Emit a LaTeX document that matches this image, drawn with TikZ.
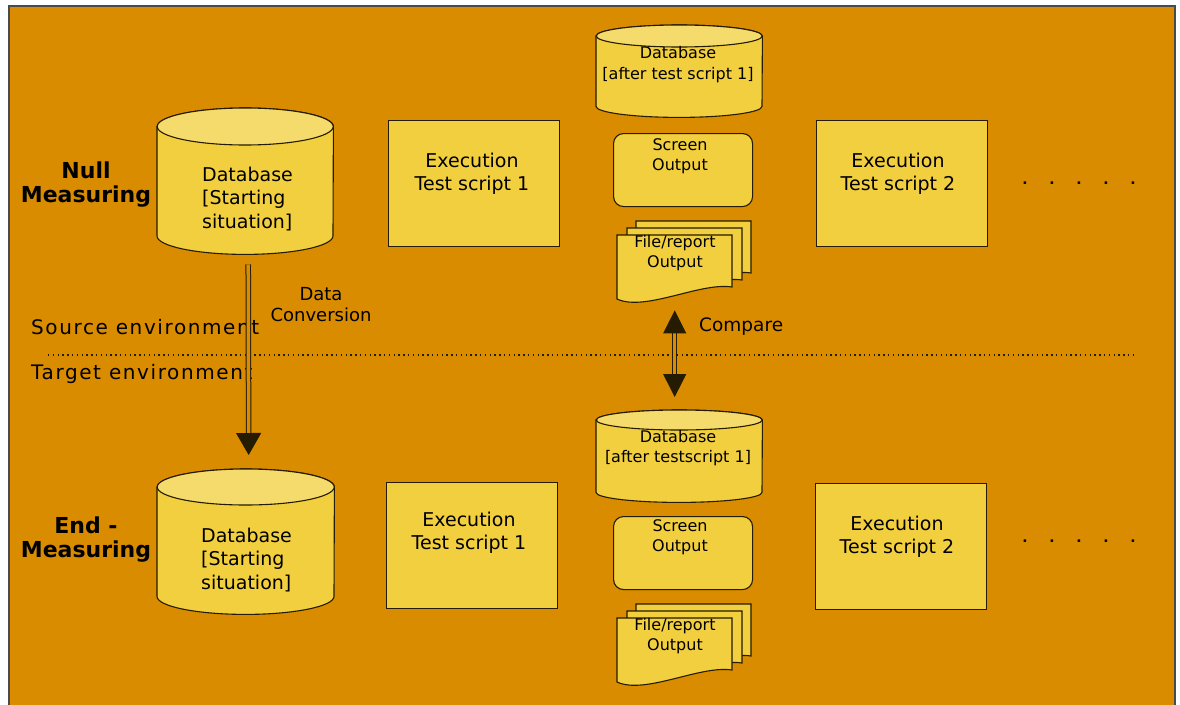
\documentclass[tikz,border=0pt]{standalone}
\usepackage{fontspec}
\setmainfont{DejaVu Sans}
\newfontfamily\spacedfont[LetterSpace=8]{DejaVu Sans}
\usetikzlibrary{arrows.meta, calc, positioning}

\definecolor{panelbg}{HTML}{D98C00}
\definecolor{boxfill}{HTML}{F2CF3F}
\definecolor{drumtop}{HTML}{F5DB6B}
\definecolor{inkline}{HTML}{241B00}
\definecolor{framegray}{HTML}{4A4A4A}

% database drum round an empty node: node, x radius, y radius
\newcommand{\drumdraw}[3]{%
  \draw[outline, fill=boxfill] ([yshift=-#3pt]#1.north west) -- ([yshift=#3pt]#1.south west)
    arc[start angle=180, end angle=360, x radius=#2pt, y radius=#3pt]
    -- ([yshift=-#3pt]#1.north east)
    arc[start angle=0, end angle=180, x radius=#2pt, y radius=#3pt] -- cycle;
  \draw[outline, fill=drumtop] ([yshift=-#3pt]#1.north) ellipse[x radius=#2pt, y radius=#3pt];}
% one sheet of the report stack
\newcommand{\docpage}[2]{%
  \draw[outline, fill=boxfill] (#1,#2) -- ++(115,0) -- ++(0,52)
    .. controls ($(#1,#2)+(83,47)$) and ($(#1,#2)+(28,77)$) .. ($(#1,#2)+(0,64)$) -- cycle;}
\newcommand{\stackdraw}[1]{%
  \begin{scope}[shift={(#1.north west)}]
    \docpage{19}{1}\docpage{10}{8}\docpage{0}{15}
  \end{scope}}
\newcommand{\moredots}{.\hspace{21.7pt}.\hspace{21.7pt}.\hspace{21.7pt}.\hspace{21.7pt}.}

\begin{document}
\begin{tikzpicture}[x=1pt, y=-1pt,
    outline/.style={draw=inkline, line width=1.1pt},
    drum/.style 2 args={minimum width=#1, minimum height=#2, inner sep=0pt, anchor=north west},
    docstack/.style={minimum width=134, minimum height=86, inner sep=0pt, anchor=north west},
    execbox/.style={rectangle, draw=inkline, line width=1.2pt, fill=boxfill, minimum width=171, minimum height=126, inner sep=0pt, anchor=north west},
    screenbox/.style={rectangle, draw=inkline, line width=1.1pt, fill=boxfill, rounded corners=10pt, minimum width=139, minimum height=73, inner sep=0pt, anchor=north west},
    boxtext/.style={align=center, inner sep=0pt, font=\fontsize{19}{23}\selectfont},
    dbtext/.style={align=left, anchor=west, inner sep=0pt, font=\fontsize{19}{23.5}\selectfont},
    smalltext/.style={align=center, inner sep=0pt, font=\fontsize{16}{20.5}\selectfont},
    phase/.style={align=center, inner sep=0pt, font=\bfseries\fontsize{22}{24}\selectfont},
    envlabel/.style={anchor=west, inner sep=0pt, font=\spacedfont\fontsize{20}{24}\selectfont},
    notetext/.style={align=center, inner sep=0pt, font=\fontsize{18}{21}\selectfont},
    moredots/.style={inner sep=0pt, font=\bfseries\fontsize{14}{14}\selectfont},
    divider/.style={draw=inkline, line width=1.4pt, dash pattern=on 1.4pt off 3.4pt},
    convarrow/.style={draw=inkline, line width=1pt, double=panelbg, double distance=3.5pt,
      -{Triangle[width=25pt, length=22pt]}, shorten <=10pt, shorten >=14pt},
    cmparrow/.style={draw=inkline, line width=1pt, double=panelbg, double distance=3pt,
      {Triangle[width=23pt, length=23pt]}-{Triangle[width=23pt, length=23pt]}, shorten <=4pt, shorten >=13pt}
]
    % Rahmen
    \useasboundingbox (0,0) rectangle (1180,704);
    \fill[white] (0,0) rectangle (1180,704);
    \draw[draw=framegray, line width=1.6pt, fill=panelbg] (9,6) rectangle (1175,712);

    % Phasen
    \node[phase] (null) at (86,185) {Null\\Measuring};
    \node[phase] (end) at (86,540) {End -\\Measuring};

    % obere Reihe: Quellumgebung
    \node[drum={176}{146}] (db1) at (157,108) {};
    \drumdraw{db1}{88}{18.5}
    \node[dbtext] (db1txt) at (202,199) {Database\\{}[Starting\\situation]};
    \node[execbox] (ex1) at (388,120) {};
    \node[boxtext] (ex1txt) at (472,174) {Execution\\Test script 1};
    \node[drum={166}{92}] (db2) at (596,25) {};
    \drumdraw{db2}{83}{11}
    \node[smalltext] (db2txt) at (678,64.5) {Database\\{}[after test script 1]};
    \node[screenbox] (scr1) at (613,133) {};
    \node[smalltext] (scr1txt) at (680,156) {Screen\\Output};
    \node[docstack] (doc1) at (617,220) {};
    \stackdraw{doc1}
    \node[smalltext] (doc1txt) at (675,253) {File/report\\Output};
    \node[execbox] (ex2) at (816,120) {};
    \node[boxtext] (ex2txt) at (898,174) {Execution\\Test script 2};
    \node[moredots] (more1) at (1079,183) {\moredots};

    % Umgebungen
    \node[envlabel] (src) at (31,327) {Source environment};
    \node[envlabel] (tgt) at (31,374) {Target environment};
    \draw[divider] (48,355) -- (1133,355);

    % untere Reihe: Zielumgebung
    \node[drum={177}{145}] (db3) at (157,469) {};
    \drumdraw{db3}{88.5}{18}
    \node[dbtext] (db3txt) at (201,560) {Database\\{}[Starting\\situation]};
    \node[execbox] (ex3) at (386,482) {};
    \node[boxtext] (ex3txt) at (469,533) {Execution\\Test script 1};
    \node[drum={166}{92}] (db4) at (596,410) {};
    \drumdraw{db4}{83}{10}
    \node[smalltext] (db4txt) at (678,448) {Database\\{}[after testscript 1]};
    \node[screenbox] (scr2) at (613,516) {};
    \node[smalltext] (scr2txt) at (680,537) {Screen\\Output};
    \node[docstack] (doc2) at (617,603) {};
    \stackdraw{doc2}
    \node[smalltext] (doc2txt) at (675,636) {File/report\\Output};
    \node[execbox] (ex4) at (815,483) {};
    \node[boxtext] (ex4txt) at (897,536.5) {Execution\\Test script 2};
    \node[moredots] (more2) at (1079,541) {\moredots};

    % Pfeile
    \draw[convarrow] ([xshift=3pt]db1.south) -- ([xshift=3pt]db3.north);
    \node[notetext] (conv) at (321,304.5) {Data\\Conversion};
    \draw[cmparrow] ($(doc1.south)+(-9.5pt,0)$) -- ($(doc1.south |- db4.north)+(-9.5pt,0)$);
    \node[envlabel, font=\fontsize{18.5}{21}\selectfont] (cmp) at (699,327) {Compare};
\end{tikzpicture}
\end{document}
